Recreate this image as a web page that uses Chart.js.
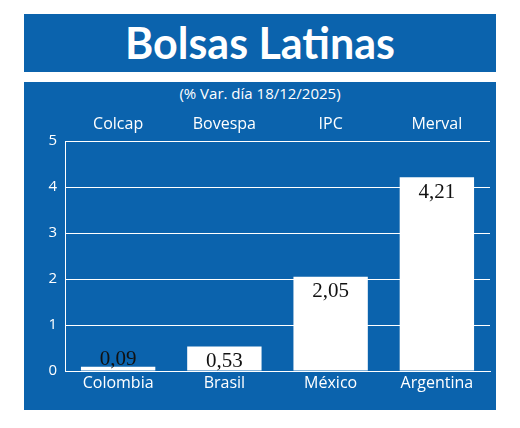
<!DOCTYPE html>
<html><head><meta charset="utf-8">
<script src="https://cdn.jsdelivr.net/npm/chart.js@4"></script>
<style>
body{margin:0;width:520px;height:428px;background:#fff;position:relative;font-family:"Open Sans",sans-serif;overflow:hidden}
#title{position:absolute;left:24px;top:14px;width:472px;height:58px;background:#0b63ad;color:#fff;font:bold 43px Lato,sans-serif;text-align:center;line-height:58px}
#panel{position:absolute;left:24px;top:82px;width:472px;height:328px;background:#0b63ad}
#sub{position:absolute;left:0;width:472px;top:1px;text-align:center;color:#fff;font-size:15px}
#wrap{position:absolute;left:0;top:0;width:472px;height:328px}
</style></head><body>
<div id="title">Bolsas Latinas</div>
<div id="panel"><div id="sub">(% Var. día 18/12/2025)</div><div id="wrap"><canvas id="c"></canvas></div></div>
<script>
const countries=["Colombia","Brasil","México","Argentina"];
const indices=["Colcap","Bovespa","IPC","Merval"];
const values=[0.09,0.53,2.05,4.21];
const valueLabels=["0,09","0,53","2,05","4,21"];
const yTicks=[0,1,2,3,4,5];
const deco={id:'deco',afterDatasetsDraw(ch){
 const c=ch.ctx,x=ch.scales.x,y=ch.scales.y,m=ch.getDatasetMeta(0);
 c.save();c.textAlign='center';
 c.fillStyle='#fff';c.font='16px "Open Sans"';c.textBaseline='middle';
 indices.forEach((t,i)=>c.fillText(t,x.getPixelForValue(i),42));
 c.fillStyle='#111';c.font='21px "Liberation Serif"';
 m.data.forEach((b,i)=>{let ty=b.y+15;if(values[i]<0.3)ty=y.getPixelForValue(0)-12;c.fillText(valueLabels[i],b.x,ty);});
 c.restore();}};
new Chart(document.getElementById('c'),{type:'bar',
data:{labels:countries,datasets:[{data:values,backgroundColor:'#fff',barPercentage:0.7,categoryPercentage:1}]},
options:{responsive:true,maintainAspectRatio:false,animation:false,
 layout:{padding:{top:59,right:6,bottom:14,left:0}},
 plugins:{legend:{display:false},tooltip:{enabled:false}},
 scales:{
  y:{min:0,max:5,afterFit(s){s.width=41},afterBuildTicks(s){s.ticks=yTicks.map(v=>({value:v}))},
     ticks:{color:'#fff',font:{size:15,family:'Open Sans'},padding:8},
     grid:{color:'#fff',lineWidth:1,drawTicks:false},border:{color:'#fff'}},
  x:{afterFit(s){s.height=25},ticks:{color:'#fff',font:{size:16,family:'Open Sans'},padding:-5},
     grid:{display:false},border:{color:'#fff'}}
 }},plugins:[deco]});
</script></body></html>
